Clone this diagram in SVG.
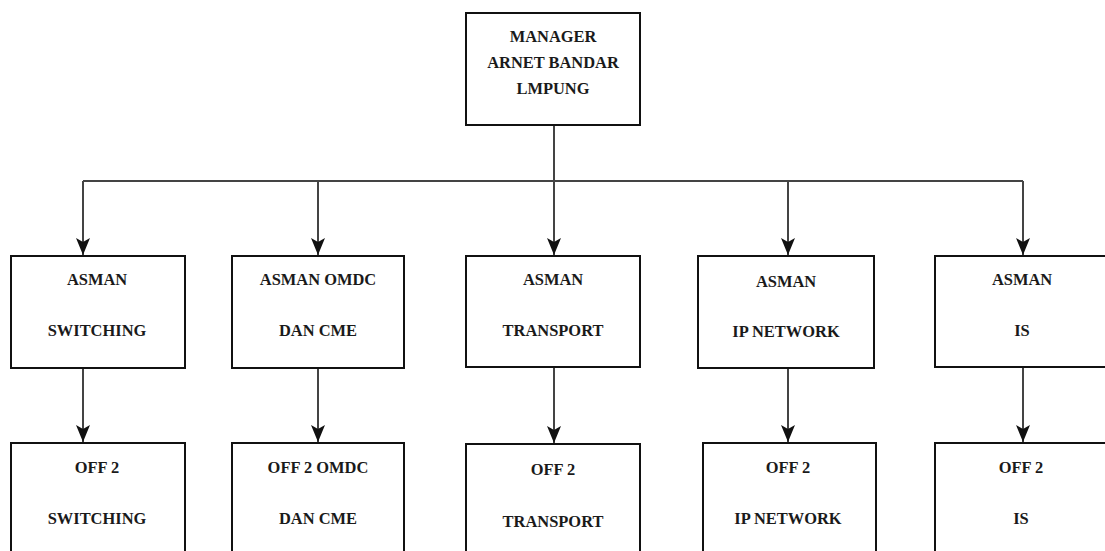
<svg xmlns="http://www.w3.org/2000/svg" width="1105" height="551" viewBox="0 0 1105 551">
<style>
.box{fill:#fff;stroke:#111;stroke-width:2}
.t{font-family:'Liberation Serif','Times New Roman','DejaVu Serif',serif;font-weight:bold;font-size:17.5px;fill:#1a1a1a;text-anchor:middle;transform-box:fill-box;transform-origin:center;transform:scaleX(0.94)}
.c{fill:none;stroke:#444;stroke-width:2}
</style>
<defs>
<marker id="ah" markerUnits="userSpaceOnUse" markerWidth="18" markerHeight="16" refX="17" refY="8" orient="auto" viewBox="0 0 18 16">
<path d="M0,1 L4,8 L0,15 L17,8 Z" fill="#111"/>
</marker>
</defs>
<rect width="1105" height="551" fill="#fff"/>
<g id="connectors">
<path class="c" d="M554,125 V181"/>
<path class="c" d="M83,181 H1023"/>
<path class="c" d="M83,181 V255" marker-end="url(#ah)"/>
<path class="c" d="M318,181 V255" marker-end="url(#ah)"/>
<path class="c" d="M554,181 V255" marker-end="url(#ah)"/>
<path class="c" d="M788,181 V255" marker-end="url(#ah)"/>
<path class="c" d="M1023,181 V255" marker-end="url(#ah)"/>
<path class="c" d="M83,368 V442" marker-end="url(#ah)"/>
<path class="c" d="M318,368 V442" marker-end="url(#ah)"/>
<path class="c" d="M554,367 V443" marker-end="url(#ah)"/>
<path class="c" d="M788,368 V442" marker-end="url(#ah)"/>
<path class="c" d="M1023,367 V442" marker-end="url(#ah)"/>
</g>
<g id="manager">
<rect class="box" x="466" y="13" width="174" height="112"/>
<text class="t" x="553" y="42">MANAGER</text>
<text class="t" x="553" y="68">ARNET BANDAR</text>
<text class="t" x="553" y="94">LMPUNG</text>
</g>
<g id="asman-switching">
<rect class="box" x="11" y="256" width="174" height="112"/>
<text class="t" x="97" y="285">ASMAN</text>
<text class="t" x="97" y="336">SWITCHING</text>
</g>
<g id="asman-omdc">
<rect class="box" x="232" y="256" width="172" height="112"/>
<text class="t" x="318" y="285">ASMAN OMDC</text>
<text class="t" x="318" y="336">DAN CME</text>
</g>
<g id="asman-transport">
<rect class="box" x="466" y="256" width="174" height="111"/>
<text class="t" x="553" y="285">ASMAN</text>
<text class="t" x="553" y="336">TRANSPORT</text>
</g>
<g id="asman-ip">
<rect class="box" x="698" y="256" width="176" height="112"/>
<text class="t" x="786" y="287">ASMAN</text>
<text class="t" x="786" y="337">IP NETWORK</text>
</g>
<g id="asman-is">
<rect class="box" x="935" y="256" width="175" height="111"/>
<text class="t" x="1022" y="285">ASMAN</text>
<text class="t" x="1022" y="336">IS</text>
</g>
<g id="off2-switching">
<rect class="box" x="11" y="443" width="174" height="120"/>
<text class="t" x="97" y="473">OFF 2</text>
<text class="t" x="97" y="524">SWITCHING</text>
</g>
<g id="off2-omdc">
<rect class="box" x="232" y="443" width="172" height="120"/>
<text class="t" x="318" y="473">OFF 2 OMDC</text>
<text class="t" x="318" y="524">DAN CME</text>
</g>
<g id="off2-transport">
<rect class="box" x="466" y="444" width="174" height="120"/>
<text class="t" x="553" y="475">OFF 2</text>
<text class="t" x="553" y="527">TRANSPORT</text>
</g>
<g id="off2-ip">
<rect class="box" x="703" y="443" width="173" height="120"/>
<text class="t" x="788" y="473">OFF 2</text>
<text class="t" x="788" y="524">IP NETWORK</text>
</g>
<g id="off2-is">
<rect class="box" x="935" y="443" width="175" height="120"/>
<text class="t" x="1021" y="473">OFF 2</text>
<text class="t" x="1021" y="524">IS</text>
</g>
</svg>
